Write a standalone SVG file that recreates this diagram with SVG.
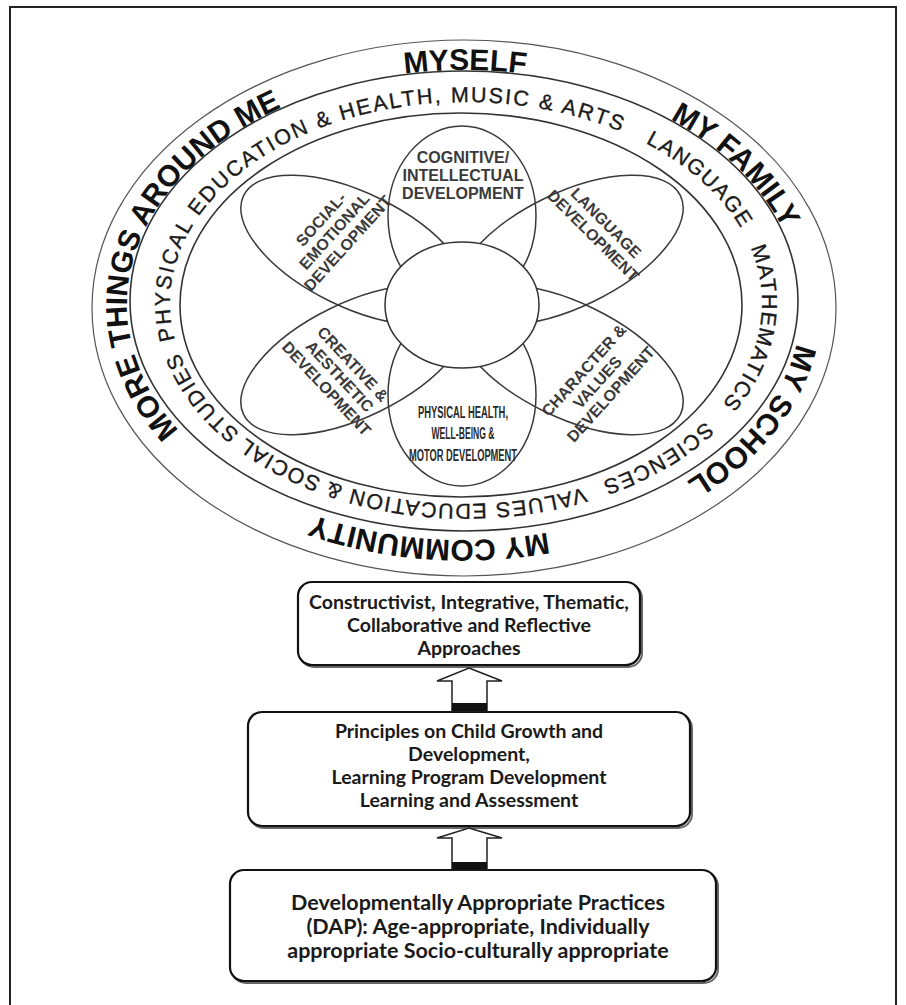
<svg xmlns="http://www.w3.org/2000/svg" width="906" height="1005" viewBox="0 0 906 1005">
<style>
.ln{fill:none;stroke:#333;stroke-width:1.6}
.thin{fill:none;stroke:#555;stroke-width:1.2}
.pl{fill:none;stroke:#3a3a3a;stroke-width:1.5}
.outer{font-family:"Liberation Sans",Arial,sans-serif;font-weight:bold;font-size:30px;fill:#111}
.mid{font-family:"Liberation Sans",Arial,sans-serif;font-size:21.5px;letter-spacing:1.4px;fill:#1a1a1a;stroke:#1a1a1a;stroke-width:0.35}
.pet{font-family:"Liberation Sans",Arial,sans-serif;font-weight:bold;font-size:16px;fill:#3a3a3a;text-anchor:middle}
.phys{font-family:"Liberation Sans",Arial,sans-serif;font-weight:bold;font-size:16px;fill:#2a2a2a;text-anchor:middle}
.box{fill:#fff;stroke:#111;stroke-width:2.2}
.shadow{fill:none;stroke:#666;stroke-width:2}
.bt{font-family:Lato,"Liberation Sans",sans-serif;font-weight:bold;font-size:19.5px;fill:#1a1a1a;text-anchor:middle}
.bt2{font-family:Lato,"Liberation Sans",sans-serif;font-weight:bold;font-size:21.5px;fill:#1a1a1a;text-anchor:middle}
.arrow{fill:#fff;stroke:#222;stroke-width:1.5}
</style>
<defs>
<path id="po" d="M801,305 A337,235 0 1 1 127,305 A337,235 0 1 1 801,305 A337,235 0 1 1 127,305 A337,235 0 1 1 801,305"/>
<path id="pm" d="M762,303 A296,201 0 1 1 170,303 A296,201 0 1 1 762,303 A296,201 0 1 1 170,303 A296,201 0 1 1 762,303"/>
</defs>
<rect x="0" y="0" width="906" height="1005" fill="#fff"/>
<rect x="10" y="7" width="886" height="1010" fill="none" stroke="#222" stroke-width="2"/>

<g id="rings">
<ellipse class="thin" cx="464" cy="308" rx="372" ry="268"/>
<ellipse class="ln" cx="464" cy="301" rx="334" ry="230"/>
<ellipse class="ln" cx="461" cy="305" rx="281" ry="192"/>
</g>

<g id="outer-texts">
<text class="outer" text-anchor="middle"><textPath href="#po" startOffset="1359">MYSELF</textPath></text>
<text class="outer" text-anchor="middle"><textPath href="#po" startOffset="1652">MY FAMILY</textPath></text>
<text class="outer" text-anchor="middle"><textPath href="#po" startOffset="1940">MY SCHOOL</textPath></text>
<text class="outer" text-anchor="middle"><textPath href="#po" startOffset="2298">MY COMMUNITY</textPath></text>
<text class="outer" text-anchor="middle"><textPath href="#po" startOffset="2779">MORE THINGS AROUND ME</textPath></text>
</g>

<g id="subject-texts">
<text class="mid" style="letter-spacing:2px"><textPath href="#pm" startOffset="750">PHYSICAL EDUCATION &amp; HEALTH, MUSIC &amp; ARTS</textPath></text>
<text class="mid"><textPath href="#pm" startOffset="1367">LANGUAGE</textPath></text>
<text class="mid"><textPath href="#pm" startOffset="1518">MATHEMATICS</textPath></text>
<text class="mid"><textPath href="#pm" startOffset="1710">SCIENCES</textPath></text>
<text class="mid"><textPath href="#pm" startOffset="1849">VALUES EDUCATION &amp; SOCIAL STUDIES</textPath></text>
</g>

<g id="petals">
<ellipse class="pl" cx="462" cy="216" rx="74" ry="90"/>
<ellipse class="pl" cx="462" cy="395" rx="74" ry="91"/>
<ellipse class="pl" cx="355" cy="250" rx="124" ry="57" transform="rotate(26 355 250)"/>
<ellipse class="pl" cx="569" cy="250" rx="124" ry="57" transform="rotate(-26 569 250)"/>
<ellipse class="pl" cx="355" cy="360" rx="124" ry="57" transform="rotate(-26 355 360)"/>
<ellipse class="pl" cx="569" cy="360" rx="124" ry="57" transform="rotate(26 569 360)"/>
<ellipse cx="462" cy="305" rx="77" ry="63" fill="#fff" stroke="#333" stroke-width="1.5"/>
</g>

<g id="cognitive">
<text class="pet" x="463" y="163">COGNITIVE/</text>
<text class="pet" x="463" y="181">INTELLECTUAL</text>
<text class="pet" x="463" y="199">DEVELOPMENT</text>
</g>
<g id="social" transform="translate(334,231) rotate(-48)">
<text class="pet" x="0" y="-12">SOCIAL-</text>
<text class="pet" x="0" y="6">EMOTIONAL</text>
<text class="pet" x="0" y="24">DEVELOPMENT</text>
</g>
<g id="language" transform="translate(600,229) rotate(45)">
<text class="pet" x="0" y="-3">LANGUAGE</text>
<text class="pet" x="0" y="15">DEVELOPMENT</text>
</g>
<g id="creative" transform="translate(340,376) rotate(47)">
<text class="pet" x="0" y="-12">CREATIVE &amp;</text>
<text class="pet" x="0" y="6">AESTHETIC</text>
<text class="pet" x="0" y="24">DEVELOPMENT</text>
</g>
<g id="character" transform="translate(597,382) rotate(-48)">
<text class="pet" x="0" y="-12">CHARACTER &amp;</text>
<text class="pet" x="0" y="6">VALUES</text>
<text class="pet" x="0" y="24">DEVELOPMENT</text>
</g>
<g id="physical">
<text class="phys" x="463" y="418" textLength="90" lengthAdjust="spacingAndGlyphs">PHYSICAL HEALTH,</text>
<text class="phys" x="463" y="439" textLength="63" lengthAdjust="spacingAndGlyphs">WELL-BEING &amp;</text>
<text class="phys" x="463" y="461" textLength="108" lengthAdjust="spacingAndGlyphs">MOTOR DEVELOPMENT</text>
</g>

<g id="box-approaches">
<rect class="shadow" x="300" y="584" width="342" height="83" rx="14"/>
<rect class="box" x="298" y="582" width="342" height="83" rx="14"/>
<text class="bt" x="469" y="609">Constructivist, Integrative, Thematic,</text>
<text class="bt" x="469" y="632">Collaborative and Reflective</text>
<text class="bt" x="469" y="655">Approaches</text>
</g>
<g id="box-principles">
<rect class="shadow" x="250" y="714" width="442" height="114" rx="14"/>
<rect class="box" x="248" y="712" width="442" height="114" rx="14"/>
<text class="bt" x="469" y="738">Principles on Child Growth and</text>
<text class="bt" x="469" y="761">Development,</text>
<text class="bt" x="469" y="784">Learning Program Development</text>
<text class="bt" x="469" y="807">Learning and Assessment</text>
</g>
<g id="box-dap">
<rect class="shadow" x="232" y="872" width="486" height="111" rx="14"/>
<rect class="box" x="230" y="870" width="486" height="111" rx="14"/>
<text class="bt2" x="478" y="910">Developmentally Appropriate Practices</text>
<text class="bt2" x="478" y="934">(DAP): Age-appropriate, Individually</text>
<text class="bt2" x="478" y="958">appropriate Socio-culturally appropriate</text>
</g>

<g id="connectors">
<polygon class="arrow" points="469,668 502,681 487,681 487,711 452,711 452,681 437,681"/>
<rect x="452" y="703" width="35" height="8" fill="#111"/>
<polygon class="arrow" points="469,828 502,838 487,838 487,870 452,870 452,838 437,838"/>
<rect x="452" y="862" width="35" height="8" fill="#111"/>
</g>
</svg>
